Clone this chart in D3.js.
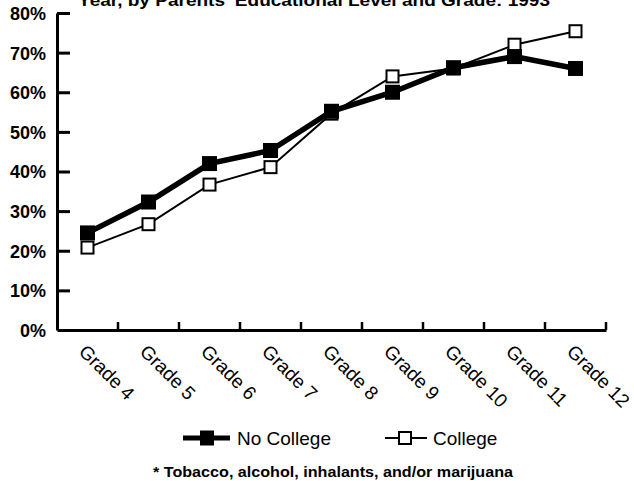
<!DOCTYPE html>
<html>
<head>
<meta charset="utf-8">
<script src="https://cdn.jsdelivr.net/npm/d3@7"></script>
<style>
  html, body { margin: 0; padding: 0; background: #fff; }
  svg { display: block; font-family: "Liberation Sans", Arial, Helvetica, sans-serif; }
</style>
</head>
<body>
<svg id="chart" width="634" height="481"></svg>
<script>
const grades = ["Grade 4", "Grade 5", "Grade 6", "Grade 7", "Grade 8", "Grade 9", "Grade 10", "Grade 11", "Grade 12"];
const noCollege = [24.5, 32.3, 42.0, 45.3, 55.2, 60.0, 66.2, 69.0, 66.0];
const college = [20.8, 26.7, 36.7, 41.1, 54.6, 64.0, 66.0, 72.0, 75.4];
const yTicks = [0, 10, 20, 30, 40, 50, 60, 70, 80];
const titleText = "Year, by Parents' Educational Level and Grade: 1993";
const seriesNames = ["No College", "College"];
const footnote = "* Tobacco, alcohol, inhalants, and/or marijuana";

const svg = d3.select("#chart");

const x = d3.scaleBand().domain(grades).range([57, 606]).padding(0);
const y = d3.scaleLinear().domain([0, 80]).range([330, 13]);
const cx = g => x(g) + x.bandwidth() / 2;

// Title (partially cut off at top, as in the reference)
svg.append("text")
  .attr("x", 314).attr("y", 6)
  .attr("text-anchor", "middle")
  .attr("font-weight", "bold")
  .attr("font-size", 17)
  .attr("textLength", 472)
  .attr("lengthAdjust", "spacingAndGlyphs")
  .text(titleText);

// Y axis
const yAxis = d3.axisLeft(y)
  .tickValues(yTicks)
  .tickFormat(d => d + "%")
  .tickSizeInner(-13)
  .tickSizeOuter(0)
  .tickPadding(11);
const gy = svg.append("g").attr("transform", "translate(57,0)").call(yAxis);
gy.select(".domain").attr("stroke", "#000").attr("stroke-width", 3);
gy.selectAll(".tick line").attr("stroke", "#000").attr("stroke-width", 3);
gy.selectAll(".tick").filter(d => d === 0).select("line").remove();
gy.selectAll(".tick text")
  .attr("font-family", "Liberation Sans, Arial, sans-serif")
  .attr("font-size", 18).attr("font-weight", "bold").attr("fill", "#000")
  .attr("dy", "0.36em");

// X axis
const xAxis = d3.axisBottom(x).tickSize(0).tickFormat("").tickSizeOuter(0);
const gx = svg.append("g").attr("transform", "translate(0,330)").call(xAxis);
gx.select(".domain").attr("stroke", "#000").attr("stroke-width", 3);
gx.selectAll(".tick").remove();
// tick marks at band boundaries (upward)
const boundaries = grades.slice(1).map(g => x(g)).concat([x.range()[1]]);
svg.append("g").selectAll("line").data(boundaries).join("line")
  .attr("x1", d => d).attr("x2", d => d)
  .attr("y1", 330).attr("y2", 322)
  .attr("stroke", "#000").attr("stroke-width", 2.5);

// X labels, rotated 45deg
svg.append("g").selectAll("text").data(grades).join("text")
  .attr("transform", d => `translate(${cx(d)},343) rotate(45)`)
  .attr("dy", "0.72em")
  .attr("font-size", 19)
  .attr("fill", "#000")
  .text(d => d);

const line = d3.line().x((d, i) => cx(grades[i])).y(d => y(d));

// College series (thin line, open squares)
svg.append("path").datum(college)
  .attr("d", line).attr("fill", "none")
  .attr("stroke", "#000").attr("stroke-width", 2);
svg.append("g").selectAll("rect").data(college).join("rect")
  .attr("x", (d, i) => cx(grades[i]) - 6)
  .attr("y", d => y(d) - 6)
  .attr("width", 12).attr("height", 12)
  .attr("fill", "#fff").attr("stroke", "#000").attr("stroke-width", 2);

// No College series (thick line, filled squares)
svg.append("path").datum(noCollege)
  .attr("d", line).attr("fill", "none")
  .attr("stroke", "#000").attr("stroke-width", 5.5);
svg.append("g").selectAll("rect").data(noCollege).join("rect")
  .attr("x", (d, i) => cx(grades[i]) - 7.5)
  .attr("y", d => y(d) - 7.5)
  .attr("width", 15).attr("height", 15)
  .attr("fill", "#000");

// Legend
const ly = 438;
const leg = svg.append("g");
leg.append("line").attr("x1", 183).attr("x2", 230).attr("y1", ly).attr("y2", ly)
  .attr("stroke", "#000").attr("stroke-width", 5);
leg.append("rect").attr("x", 200).attr("y", ly - 7.5).attr("width", 14).attr("height", 15).attr("fill", "#000");
leg.append("text").attr("x", 237).attr("y", ly + 7).attr("font-size", 19).text(seriesNames[0]);

leg.append("line").attr("x1", 385).attr("x2", 427).attr("y1", ly).attr("y2", ly)
  .attr("stroke", "#000").attr("stroke-width", 2);
leg.append("rect").attr("x", 399).attr("y", ly - 6).attr("width", 12).attr("height", 12)
  .attr("fill", "#fff").attr("stroke", "#000").attr("stroke-width", 2);
leg.append("text").attr("x", 433).attr("y", ly + 7).attr("font-size", 19).text(seriesNames[1]);

// Footnote
svg.append("text")
  .attr("x", 153).attr("y", 477)
  .attr("font-size", 15).attr("font-weight", "bold")
  .attr("textLength", 360).attr("lengthAdjust", "spacingAndGlyphs")
  .text(footnote);
</script>
</body>
</html>
